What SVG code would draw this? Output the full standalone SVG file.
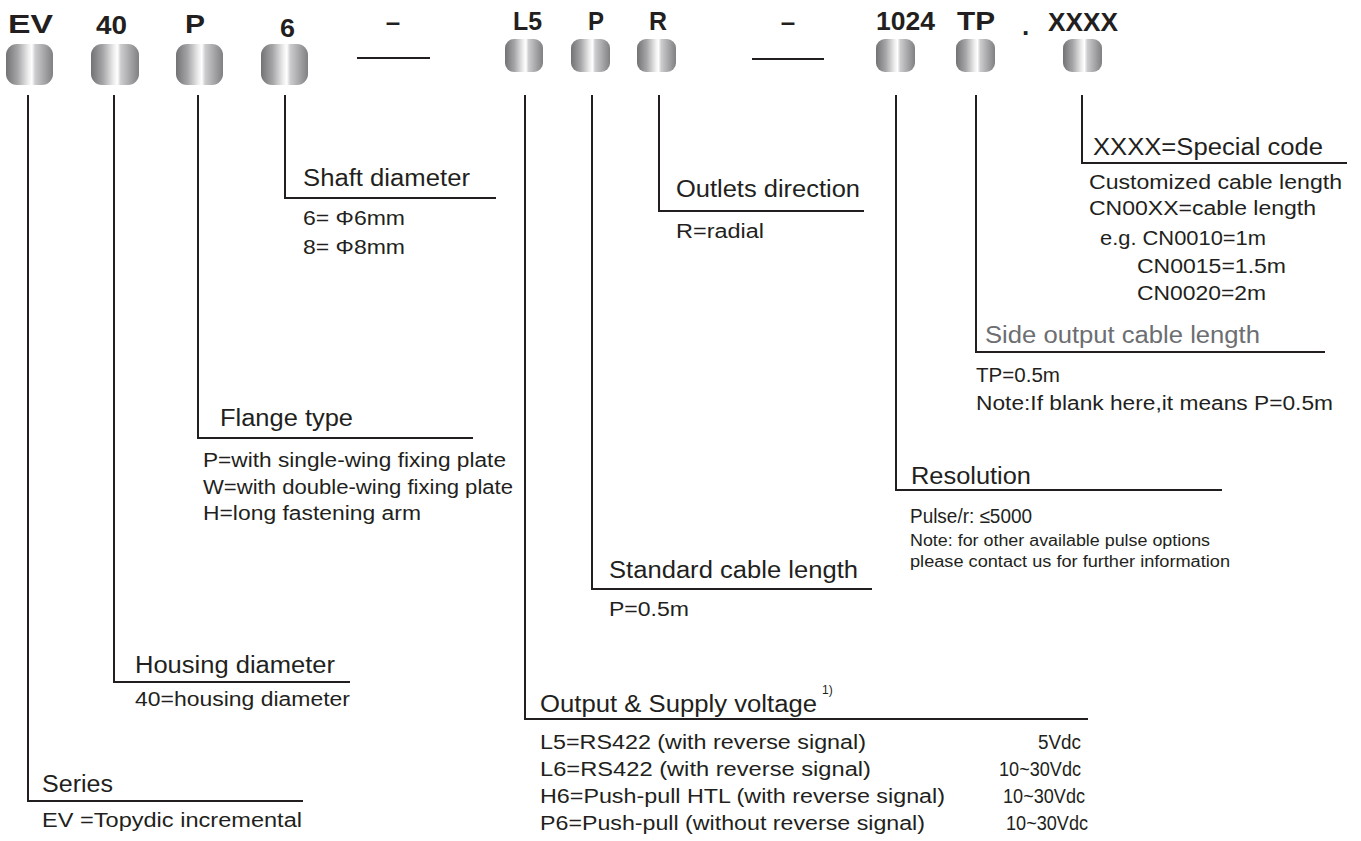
<svg xmlns="http://www.w3.org/2000/svg" width="1361" height="841" viewBox="0 0 1361 841">
<defs>
<linearGradient id="metal" x1="0" y1="0" x2="1" y2="0">
<stop offset="0" stop-color="#727275"/>
<stop offset="0.25" stop-color="#a6a6a8"/>
<stop offset="0.47" stop-color="#ececec"/>
<stop offset="0.55" stop-color="#ffffff"/>
<stop offset="0.62" stop-color="#cdcdcf"/>
<stop offset="1" stop-color="#808083"/>
</linearGradient>
<style>
text{font-family:"Liberation Sans",Arial,Helvetica,sans-serif;fill:#231f20}
.b{font-size:26px;font-weight:bold}
.h{font-size:23px}
.d{font-size:20px}
.n{font-size:16px}
.g{fill:#6d6e71}
.sup{font-size:12px}
.ln{stroke:#231f20;stroke-width:2;fill:none}
.pill{fill:url(#metal)}
</style>
</defs>
<rect width="1361" height="841" fill="#ffffff"/>

<g id="code">
<text class="b" x="8" y="33" textLength="45" lengthAdjust="spacingAndGlyphs">EV</text>
<text class="b" x="96" y="34" textLength="31" lengthAdjust="spacingAndGlyphs">40</text>
<text class="b" x="185" y="33" textLength="20" lengthAdjust="spacingAndGlyphs">P</text>
<text class="b" x="280" y="37" textLength="15" lengthAdjust="spacingAndGlyphs">6</text>
<text class="b" x="393" y="31" text-anchor="middle">–</text>
<text class="b" x="513" y="30" textLength="29" lengthAdjust="spacingAndGlyphs">L5</text>
<text class="b" x="588" y="30" textLength="16" lengthAdjust="spacingAndGlyphs">P</text>
<text class="b" x="649" y="30" textLength="18" lengthAdjust="spacingAndGlyphs">R</text>
<text class="b" x="788" y="31" text-anchor="middle">–</text>
<text class="b" x="876" y="30" textLength="59" lengthAdjust="spacingAndGlyphs">1024</text>
<text class="b" x="957" y="30" textLength="38" lengthAdjust="spacingAndGlyphs">TP</text>
<text class="b" x="1022" y="35">.</text>
<text class="b" x="1048" y="31" textLength="70" lengthAdjust="spacingAndGlyphs">XXXX</text>
<rect class="pill" x="6" y="44" width="47" height="41" rx="11"/>
<rect class="pill" x="91" y="44" width="48" height="41" rx="11"/>
<rect class="pill" x="176" y="44" width="47" height="41" rx="11"/>
<rect class="pill" x="261" y="44" width="47" height="41" rx="11"/>
<line class="ln" x1="357" y1="58" x2="430" y2="58"/>
<rect class="pill" x="505" y="39" width="38" height="33" rx="9"/>
<rect class="pill" x="571" y="39" width="39" height="33" rx="9"/>
<rect class="pill" x="637" y="39" width="39" height="33" rx="9"/>
<line class="ln" x1="752" y1="59" x2="824" y2="59"/>
<rect class="pill" x="876" y="39" width="39" height="33" rx="9"/>
<rect class="pill" x="956" y="39" width="39" height="33" rx="9"/>
<rect class="pill" x="1063" y="39" width="39" height="33" rx="9"/>
</g>

<g id="connectors">
<path class="ln" d="M28,95 V801 H303"/>
<path class="ln" d="M114,95 V682 H350"/>
<path class="ln" d="M198,95 V438 H473"/>
<path class="ln" d="M285,95 V198 H496"/>
<path class="ln" d="M525,95 V719 H1088"/>
<path class="ln" d="M592,95 V589 H872"/>
<path class="ln" d="M659,95 V211 H864"/>
<path class="ln" d="M896,95 V490 H1222"/>
<path class="ln" d="M976,95 V352 H1325"/>
<path class="ln" d="M1082,95 V163 H1347"/>
</g>

<g id="series">
<text class="h" x="42" y="792" textLength="71" lengthAdjust="spacingAndGlyphs">Series</text>
<text class="d" x="42" y="827" textLength="260" lengthAdjust="spacingAndGlyphs">EV =Topydic incremental</text>
</g>

<g id="housing">
<text class="h" x="135" y="673" textLength="200" lengthAdjust="spacingAndGlyphs">Housing diameter</text>
<text class="d" x="135" y="706" textLength="215" lengthAdjust="spacingAndGlyphs">40=housing diameter</text>
</g>

<g id="flange">
<text class="h" x="220" y="426" textLength="133" lengthAdjust="spacingAndGlyphs">Flange type</text>
<text class="d" x="203" y="467" textLength="303" lengthAdjust="spacingAndGlyphs">P=with single-wing fixing plate</text>
<text class="d" x="203" y="494" textLength="310" lengthAdjust="spacingAndGlyphs">W=with double-wing fixing plate</text>
<text class="d" x="203" y="520" textLength="218" lengthAdjust="spacingAndGlyphs">H=long fastening arm</text>
</g>

<g id="shaft">
<text class="h" x="303" y="186" textLength="167" lengthAdjust="spacingAndGlyphs">Shaft diameter</text>
<text class="d" x="303" y="225" textLength="102" lengthAdjust="spacingAndGlyphs">6= Φ6mm</text>
<text class="d" x="303" y="254" textLength="102" lengthAdjust="spacingAndGlyphs">8= Φ8mm</text>
</g>

<g id="output">
<text class="h" x="540" y="712" textLength="277" lengthAdjust="spacingAndGlyphs">Output &amp; Supply voltage</text>
<text class="sup" x="822" y="694">1)</text>
<text class="d" x="540" y="749" textLength="326" lengthAdjust="spacingAndGlyphs">L5=RS422 (with reverse signal)</text>
<text class="d" x="540" y="776" textLength="331" lengthAdjust="spacingAndGlyphs">L6=RS422  (with reverse signal)</text>
<text class="d" x="540" y="803" textLength="405" lengthAdjust="spacingAndGlyphs">H6=Push-pull HTL (with reverse signal)</text>
<text class="d" x="540" y="830" textLength="385" lengthAdjust="spacingAndGlyphs">P6=Push-pull (without reverse signal)</text>
<text class="d" x="1081" y="749" text-anchor="end" textLength="43" lengthAdjust="spacingAndGlyphs">5Vdc</text>
<text class="d" x="1081" y="776" text-anchor="end" textLength="82" lengthAdjust="spacingAndGlyphs">10~30Vdc</text>
<text class="d" x="1085" y="803" text-anchor="end" textLength="82" lengthAdjust="spacingAndGlyphs">10~30Vdc</text>
<text class="d" x="1088" y="830" text-anchor="end" textLength="82" lengthAdjust="spacingAndGlyphs">10~30Vdc</text>
</g>

<g id="cable">
<text class="h" x="609" y="578" textLength="249" lengthAdjust="spacingAndGlyphs">Standard cable length</text>
<text class="d" x="609" y="616" textLength="80" lengthAdjust="spacingAndGlyphs">P=0.5m</text>
</g>

<g id="outlets">
<text class="h" x="676" y="197" textLength="184" lengthAdjust="spacingAndGlyphs">Outlets direction</text>
<text class="d" x="676" y="238" textLength="88" lengthAdjust="spacingAndGlyphs">R=radial</text>
</g>

<g id="resolution">
<text class="h" x="911" y="484" textLength="120" lengthAdjust="spacingAndGlyphs">Resolution</text>
<text class="d" x="910" y="523" textLength="122" lengthAdjust="spacingAndGlyphs">Pulse/r: ≤5000</text>
<text class="n" x="910" y="546" textLength="300" lengthAdjust="spacingAndGlyphs">Note: for other available pulse options</text>
<text class="n" x="910" y="567" textLength="320" lengthAdjust="spacingAndGlyphs">please contact us for further information</text>
</g>

<g id="side">
<text class="h g" x="985" y="343" textLength="275" lengthAdjust="spacingAndGlyphs">Side output cable length</text>
<text class="d" x="976" y="382" textLength="84" lengthAdjust="spacingAndGlyphs">TP=0.5m</text>
<text class="d" x="976" y="410" textLength="357" lengthAdjust="spacingAndGlyphs">Note:If blank here,it means P=0.5m</text>
</g>

<g id="special">
<text class="h" x="1093" y="155" textLength="230" lengthAdjust="spacingAndGlyphs">XXXX=Special code</text>
<text class="d" x="1089" y="189" textLength="253" lengthAdjust="spacingAndGlyphs">Customized cable length</text>
<text class="d" x="1089" y="215" textLength="227" lengthAdjust="spacingAndGlyphs">CN00XX=cable length</text>
<text class="d" x="1100" y="245" textLength="166" lengthAdjust="spacingAndGlyphs">e.g. CN0010=1m</text>
<text class="d" x="1137" y="273" textLength="149" lengthAdjust="spacingAndGlyphs">CN0015=1.5m</text>
<text class="d" x="1137" y="300" textLength="129" lengthAdjust="spacingAndGlyphs">CN0020=2m</text>
</g>
</svg>
